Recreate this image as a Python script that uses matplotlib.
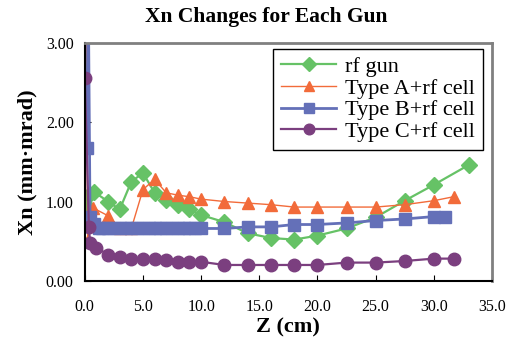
import matplotlib
matplotlib.use('Agg')
import matplotlib.pyplot as plt

plt.rcParams['font.family'] = ['Liberation Serif', 'DejaVu Serif']

# rf gun
z_gun = [0.1, 0.4, 0.8, 2, 3, 4, 5, 6, 7, 8, 9, 10, 12, 14, 16, 18, 20, 22.5, 25, 27.5, 30, 33]
xn_gun = [0.95, 1.08, 1.12, 1.0, 0.9, 1.25, 1.36, 1.11, 1.02, 0.96, 0.9, 0.83, 0.74, 0.6,
          0.54, 0.52, 0.57, 0.66, 0.8, 1.01, 1.21, 1.46]

# Type A + rf cell
z_a = [0.1, 0.25, 0.7, 2, 3, 4, 5, 6, 7, 8, 9, 10, 12, 14, 16, 18, 20, 22.5, 25, 27.5, 30, 31.7]
xn_a = [3.4, 0.52, 0.92, 0.82, 0.67, 0.66, 1.15, 1.28, 1.11, 1.08, 1.06, 1.03, 1.0, 0.98,
        0.96, 0.93, 0.93, 0.93, 0.93, 0.96, 1.01, 1.06]

# Type B + rf cell
z_b = [0.15, 0.3, 0.45, 0.8, 1.2, 1.5, 2, 2.5, 3, 3.5, 4, 4.5, 5, 5.5, 6, 6.5, 7, 7.5, 8,
       8.5, 9, 9.5, 10, 12, 14, 16, 18, 20, 22.5, 25, 27.5, 30, 31]
xn_b = [1.68, 3.6, 0.8, 0.72, 0.67, 0.67, 0.67, 0.67, 0.67, 0.67, 0.67, 0.67, 0.67, 0.67,
        0.67, 0.67, 0.67, 0.67, 0.67, 0.67, 0.67, 0.67, 0.66, 0.66, 0.68, 0.68, 0.71, 0.71,
        0.73, 0.76, 0.78, 0.81, 0.81]

# Type C + rf cell
z_c = [0.0, 0.35, 0.45, 1.0, 2, 3, 4, 5, 6, 7, 8, 9, 10, 12, 14, 16, 18, 20, 22.5, 25,
       27.5, 30, 31.7]
xn_c = [2.56, 0.68, 0.48, 0.42, 0.33, 0.3, 0.28, 0.28, 0.28, 0.26, 0.24, 0.24, 0.24, 0.2,
        0.2, 0.2, 0.2, 0.2, 0.23, 0.23, 0.25, 0.28, 0.28]

fig = plt.figure(figsize=(5.14, 3.4), dpi=100)
ax = fig.add_axes([0.165, 0.174, 0.792, 0.70])

ax.plot(z_gun, xn_gun, color='#66c266', lw=1.6, marker='D', ms=8, label='rf gun')
ax.plot(z_a, xn_a, color='#f26b3a', lw=1.0, marker='^', ms=8, label='Type A+rf cell')
ax.plot(z_b, xn_b, color='#6470b8', lw=2.0, marker='s', ms=8.5, label='Type B+rf cell')
ax.plot(z_c, xn_c, color='#7b3f7f', lw=1.6, marker='o', ms=9, label='Type C+rf cell')

ax.set_xlim(0, 35)
ax.set_ylim(0, 3)
ax.set_xticks([0, 5, 10, 15, 20, 25, 30, 35])
ax.set_xticklabels(['0.0', '5.0', '10.0', '15.0', '20.0', '25.0', '30.0', '35.0'])
ax.set_yticks([0, 1, 2, 3])
ax.set_yticklabels(['0.00', '1.00', '2.00', '3.00'])
ax.tick_params(axis='x', direction='in', length=4, pad=13, labelsize=11.5)
ax.tick_params(axis='y', direction='in', length=4, pad=8, labelsize=11.5)

for s in ['top', 'right']:
    ax.spines[s].set_color('#808080')
    ax.spines[s].set_linewidth(2)
for s in ['left', 'bottom']:
    ax.spines[s].set_color('black')
    ax.spines[s].set_linewidth(1.5)

ax.set_xlabel('Z (cm)', fontsize=16, fontweight='bold', labelpad=2)
ax.set_ylabel('Xn (mm·mrad)', fontsize=16, fontweight='bold', labelpad=6)
ax.set_title('Xn Changes for Each Gun', fontsize=15.5, fontweight='bold', pad=15, x=0.445)

leg = ax.legend(loc='upper right', bbox_to_anchor=(0.978, 0.975), borderaxespad=0,
                fontsize=16, handlelength=2.5, handletextpad=0.4, labelspacing=0.05,
                borderpad=0.35, fancybox=False, framealpha=1, edgecolor='black',
                markerscale=0.85)
leg.get_frame().set_linewidth(1.0)

fig.savefig('out.png', dpi=100)
